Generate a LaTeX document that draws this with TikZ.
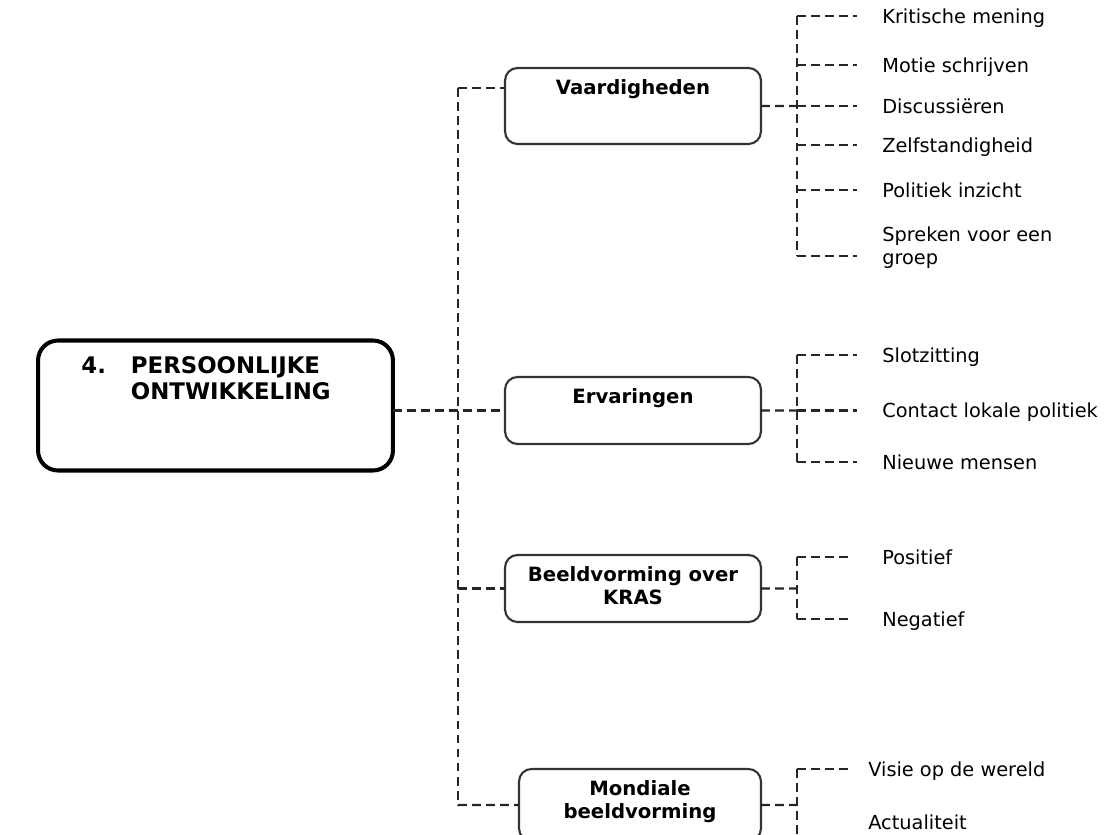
\documentclass[tikz,border=0pt]{standalone}
\usepackage{fontspec}
\setmainfont{DejaVu Sans}
\usepackage{tikz}
\tikzstyle{mainnode}=[black, draw=black, line width=2.3pt, outer sep=0pt, shape=rectangle, rounded corners=0.4cm, minimum width=7.1cm, inner sep=0pt, font=\bfseries\fontsize{13}{14.8}\selectfont, text height=0.66cm, text depth=1.94cm]
\tikzstyle{groupnode}=[black, draw=black!80, line width=1.2pt, outer sep=0pt, shape=rectangle, rounded corners=0.25cm, minimum width=5.12cm, inner sep=0pt, anchor=north, font=\bfseries\fontsize{11.2}{13}\selectfont, text height=0.53cm]
\tikzstyle{leafnode}=[black, shape=rectangle, inner sep=0pt, anchor=west, font=\fontsize{11}{13}\selectfont, text height=8.8pt, text depth=0.8pt]
\tikzstyle{conn}=[draw=black!85, line width=1.3pt, dash pattern=on 5pt off 3pt]

\begin{document}
\begin{tikzpicture}[x=0.02cm, y=-0.02cm]
\clip (0,0) rectangle (1107,835);

\node [mainnode] (pers) at (215.5,405.5) {\begin{tabular}[t]{@{}l@{\hspace{0.5cm}}l@{\hspace{0.38cm}}}4.&PERSOONLIJKE\\&ONTWIKKELING\end{tabular}};

\node [groupnode, text depth=0.99cm] (vaard) at (633,68) {Vaardigheden};
\node [groupnode, text depth=0.81cm] (erv) at (633,377) {Ervaringen};
\node [groupnode, text depth=0.81cm] (beeld) at (633,555) {\begin{tabular}[t]{@{}c@{}}Beeldvorming over\\KRAS\end{tabular}};
\node [groupnode, text depth=0.91cm, minimum width=4.84cm] (mond) at (640,769) {\begin{tabular}[t]{@{}c@{}}Mondiale\\beeldvorming\end{tabular}};

\node [leafnode] (kritisch) at (882,16) {Kritische mening};
\node [leafnode] (motie) at (882,65) {Motie schrijven};
\node [leafnode] (discussie) at (882,106) {Discussiëren};
\node [leafnode] (zelfstandig) at (882,145) {Zelfstandigheid};
\node [leafnode] (politiek) at (882,190) {Politiek inzicht};
\node [leafnode, text depth=15.8pt] (spreken) at (882,248) {\begin{tabular}[t]{@{}l@{}}Spreken voor een\\groep\end{tabular}};
\node [leafnode] (slot) at (882,355) {Slotzitting};
\node [leafnode] (contact) at (882,410.5) {Contact lokale politiek};
\node [leafnode] (nieuw) at (882,462) {Nieuwe mensen};
\node [leafnode] (positief) at (882,557) {Positief};
\node [leafnode] (negatief) at (882,619) {Negatief};
\node [leafnode] (visie) at (868,769) {Visie op de wereld};
\node [leafnode] (actueel) at (868,822) {Actualiteit};

\coordinate (trunktop) at (458,88);
\coordinate (trunkbot) at (458,805);
\coordinate (vaardjoin) at (797,106);
\coordinate (vaardend) at (797,256);
\coordinate (ervjoin) at (797,410.5);
\coordinate (beeldjoin) at (797,588.5);
\coordinate (mondjoin) at (797,805);
\coordinate (mondend) at (797,850);

% left side
\draw[conn] (trunktop) -- (trunkbot);
\draw[conn] (trunktop) -- (trunktop -| vaard.west);
\draw[conn] (pers.east |- erv.west) -- (erv.west);
\draw[conn] (trunktop |- beeld.west) -- (beeld.west);
\draw[conn] (trunkbot) -- (mond.west);

% Vaardigheden
\draw[conn] (vaard.east) -- (vaardjoin);
\draw[conn] (vaardjoin |- kritisch.west) -- (vaardend);
\draw[conn, shorten >=0.5cm] (vaardjoin |- kritisch.west) -- (kritisch.west);
\draw[conn, shorten >=0.5cm] (vaardjoin |- motie.west) -- (motie.west);
\draw[conn, shorten >=0.5cm] (vaardjoin |- discussie.west) -- (discussie.west);
\draw[conn, shorten >=0.5cm] (vaardjoin |- zelfstandig.west) -- (zelfstandig.west);
\draw[conn, shorten >=0.5cm] (vaardjoin |- politiek.west) -- (politiek.west);
\draw[conn, shorten >=0.5cm] (vaardend) -- (vaardend -| spreken.west);

% Ervaringen
\draw[conn] (erv.east) -- (ervjoin);
\draw[conn] (ervjoin |- slot.west) -- (ervjoin |- nieuw.west);
\draw[conn, shorten >=0.5cm] (ervjoin |- slot.west) -- (slot.west);
\draw[conn, shorten >=0.5cm] (ervjoin |- contact.west) -- (contact.west);
\draw[conn, shorten >=0.5cm] (ervjoin |- nieuw.west) -- (nieuw.west);

% Beeldvorming over KRAS
\draw[conn] (beeld.east) -- (beeldjoin);
\draw[conn] (beeldjoin |- positief.west) -- (beeldjoin |- negatief.west);
\draw[conn, shorten >=0.68cm] (beeldjoin |- positief.west) -- (positief.west);
\draw[conn, shorten >=0.68cm] (beeldjoin |- negatief.west) -- (negatief.west);

% Mondiale beeldvorming
\draw[conn] (mond.east) -- (mondjoin);
\draw[conn] (mondjoin |- visie.west) -- (mondend);
\draw[conn, shorten >=0.4cm] (mondjoin |- visie.west) -- (visie.west);
\end{tikzpicture}
\end{document}
